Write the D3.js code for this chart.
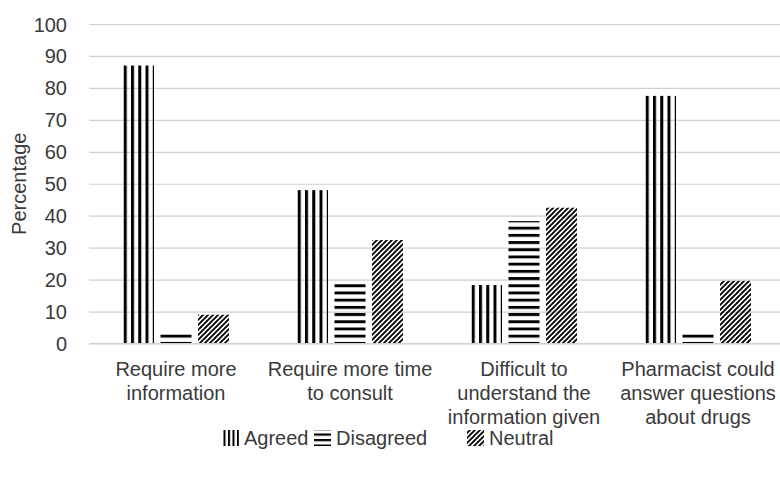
<!DOCTYPE html>
<html>
<head>
<meta charset="utf-8">
<script src="https://cdn.jsdelivr.net/npm/d3@7"></script>
<style>
  body { margin: 0; background: #fff; }
  svg { display: block; }
  text { font-family: "Liberation Sans", Arial, sans-serif; }
</style>
</head>
<body>
<svg id="chart" width="780" height="477"></svg>
<script>
const categories = [
  "Require more\ninformation",
  "Require more time\nto consult",
  "Difficult to\nunderstand the\ninformation given",
  "Pharmacist could\nanswer questions\nabout drugs"
];
const seriesNames = ["Agreed", "Disagreed", "Neutral"];
const agreed    = [87, 48, 18.3, 77.5];
const disagreed = [3.6, 19, 38.3, 3.5];
const neutral   = [9, 32.4, 42.5, 19.6];
const yTicks = [0, 10, 20, 30, 40, 50, 60, 70, 80, 90, 100];

const seriesValues = [agreed, disagreed, neutral];
const patternIds = ["pAgreed", "pDisagreed", "pNeutral"];
const legendPatternIds = ["lAgreed", "lDisagreed", "pNeutral"];

const svg = d3.select("#chart");
const fontSize = 20;
const textColor = "#3a3a3a";

const margin = { left: 89, right: -5, top: 24, bottom: 133.5 };
const W = 780, H = 477;

const y = d3.scaleLinear().domain([0, 100]).range([H - margin.bottom, margin.top]);
const x0 = d3.scaleBand().domain(categories).range([margin.left, W - margin.right]).padding(0);
const groupW = 106;
const x1 = d3.scaleBand().domain(seriesNames).range([0, groupW]).paddingInner(0.173).paddingOuter(0);
const groupOff = (x0.bandwidth() - groupW) / 2;

// patterns
const defs = svg.append("defs");
const pv = defs.append("pattern").attr("id", "pAgreed").attr("patternUnits", "userSpaceOnUse")
  .attr("width", 7.25).attr("height", 10).attr("x", 124 - 17 * 7.25);
pv.append("rect").attr("x", 0).attr("y", 0).attr("width", 3).attr("height", 10).attr("fill", "#000");

const ph = defs.append("pattern").attr("id", "pDisagreed").attr("patternUnits", "userSpaceOnUse")
  .attr("width", 10).attr("height", 7.2).attr("y", y(0) - 1.6);
ph.append("rect").attr("x", 0).attr("y", 0).attr("width", 10).attr("height", 2.9).attr("fill", "#000");

const pd = defs.append("pattern").attr("id", "pNeutral").attr("patternUnits", "userSpaceOnUse")
  .attr("width", 5).attr("height", 5);
pd.append("path").attr("d", "M-1,1 l2,-2 M0,5 l5,-5 M4,6 l2,-2")
  .attr("stroke", "#000").attr("stroke-width", 1.9);

// legend patterns (finer)
const lv = defs.append("pattern").attr("id", "lAgreed").attr("patternUnits", "userSpaceOnUse")
  .attr("width", 4.5).attr("height", 10).attr("x", 222);
lv.append("rect").attr("x", 0).attr("y", 0).attr("width", 2).attr("height", 10).attr("fill", "#000");
const lh = defs.append("pattern").attr("id", "lDisagreed").attr("patternUnits", "userSpaceOnUse")
  .attr("width", 10).attr("height", 5.5).attr("y", 430);
lh.append("rect").attr("x", 0).attr("y", 0).attr("width", 10).attr("height", 2.2).attr("fill", "#000");

// gridlines
const grid = svg.append("g").attr("transform", `translate(${margin.left},0)`)
  .call(d3.axisLeft(y).tickValues(yTicks).tickSize(-(W - margin.right - margin.left)).tickFormat(""));
grid.select(".domain").remove();
grid.selectAll("line").attr("stroke", "#d0d0d0").attr("stroke-width", 1.2);

// y axis labels
const yAxis = svg.append("g").attr("transform", `translate(67,0)`)
  .call(d3.axisLeft(y).tickValues(yTicks).tickSize(0).tickPadding(0));
yAxis.select(".domain").remove();
yAxis.selectAll("text").attr("font-size", fontSize).attr("fill", textColor)
  .attr("font-family", "Liberation Sans, Arial, sans-serif").attr("dy", "0.35em");

// y title
svg.append("text")
  .attr("transform", `translate(19,${(y(0) + y(100)) / 2}) rotate(-90)`)
  .attr("text-anchor", "middle")
  .attr("dy", "0.35em")
  .attr("font-size", fontSize).attr("fill", textColor)
  .text("Percentage");

// bars
const groups = svg.append("g").selectAll("g").data(categories).join("g")
  .attr("transform", d => `translate(${x0(d) + groupOff},0)`);
groups.selectAll("rect").data((d, i) => seriesNames.map((s, j) => ({ s, j, v: seriesValues[j][i] })))
  .join("rect")
  .attr("x", d => x1(d.s))
  .attr("width", x1.bandwidth())
  .attr("y", d => y(d.v))
  .attr("height", d => y(0) - y(d.v))
  .attr("fill", d => `url(#${patternIds[d.j]})`);

// baseline redraw
svg.append("line").attr("x1", margin.left).attr("x2", W - margin.right)
  .attr("y1", y(0)).attr("y2", y(0)).attr("stroke", "#d0d0d0").attr("stroke-width", 1.2);

// category labels
const xAxis = svg.append("g").attr("transform", `translate(0,${y(0)})`)
  .call(d3.axisBottom(x0).tickSize(0).tickFormat(""));
xAxis.select(".domain").remove();
xAxis.selectAll(".tick").each(function (d) {
  const lines = d.split("\n");
  const t = d3.select(this).append("text")
    .attr("text-anchor", "middle")
    .attr("font-size", fontSize).attr("fill", textColor);
  lines.forEach((ln, k) => {
    t.append("tspan").attr("x", 0).attr("y", 32.5 + k * 24).text(ln);
  });
});

// legend
const legendY = 438;
const legendX = [222, 314, 467];
const leg = svg.append("g");
seriesNames.forEach((s, j) => {
  const g = leg.append("g").attr("transform", `translate(${legendX[j]},${legendY})`);
  g.append("rect").attr("x", 0).attr("y", -8).attr("width", 17).attr("height", 16)
    .attr("fill", `url(#${legendPatternIds[j]})`);
  g.append("text").attr("x", 22).attr("y", 0).attr("dy", "0.35em")
    .attr("font-size", fontSize).attr("fill", textColor).text(s);
});
</script>
</body>
</html>
